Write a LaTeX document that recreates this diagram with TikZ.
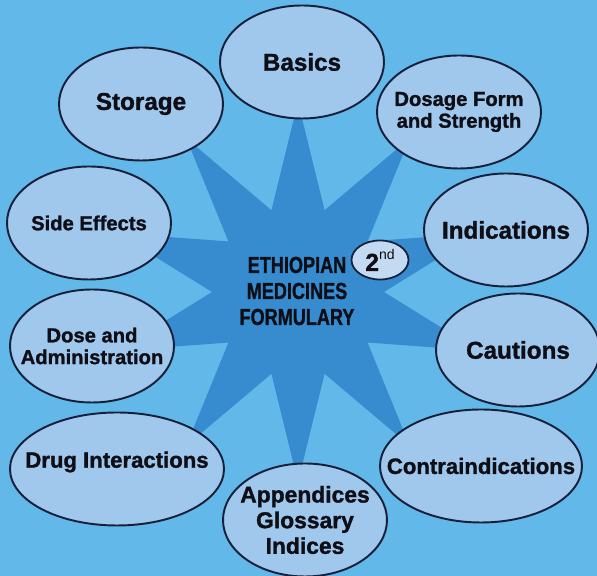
\documentclass[tikz,border=0pt]{standalone}
\usepackage{fontspec}
\setmainfont{Liberation Sans}[BoldFeatures={FakeBold=1.3}]
\newfontfamily\narrowfont{Liberation Sans}[FakeStretch=0.78,BoldFeatures={FakeBold=1.1}]
\usetikzlibrary{shapes.geometric}
\definecolor{bgblue}{RGB}{98,184,232}
\definecolor{starblue}{RGB}{54,140,207}
\definecolor{ellfill}{RGB}{160,199,236}
\definecolor{edfill}{RGB}{196,218,242}
\definecolor{linecol}{RGB}{22,32,58}
\definecolor{txtcol}{RGB}{14,14,22}
\tikzset{
	topic/.style={ellipse,draw=linecol,line width=1.1pt,fill=ellfill,inner sep=0pt,minimum width=3.28cm,minimum height=2.26cm},
	bigtxt/.style={text=txtcol,align=center,font=\bfseries\fontsize{13.8}{15}\selectfont},
	midtxt/.style={text=txtcol,align=center,font=\bfseries\fontsize{12.6}{14.6}\selectfont},
	smalltxt/.style={text=txtcol,align=center,font=\bfseries\fontsize{11.5}{12.4}\selectfont}
}
\begin{document}
\begin{tikzpicture}
	\clip (0,0) rectangle (11.94,11.52);
	\fill[bgblue] (0,0) rectangle (11.94,11.52);
	
	\fill[starblue,shift={(5.96,5.68)}] (90:3.8) \foreach \a in {0,36,...,324} {-- (90-\a:3.8) -- (72-\a:1.72)} -- cycle;
	
	\node[text=txtcol,align=center,font=\narrowfont\bfseries\fontsize{13.2}{14.8}\selectfont] (title) at (5.94,5.70) {ETHIOPIAN\\MEDICINES\\FORMULARY};
	\node[ellipse,draw=linecol,line width=1pt,fill=edfill,text=txtcol,inner sep=0pt,minimum width=1.14cm,minimum height=0.78cm] (edition) at (7.60,6.32) {\fontsize{14}{15}\selectfont\textbf{2}\raisebox{0.9ex}{\fontsize{8}{9}\selectfont nd}};
	
	\node[topic,label={[bigtxt]center:Basics}] (basics) at (6.04,10.28) {};
	\node[topic,label={[smalltxt]center:Dosage Form\\and Strength}] (dosage) at (9.18,9.28) {};
	\node[topic,label={[bigtxt]center:Indications}] (indications) at (10.12,6.92) {};
	\node[topic,label={[bigtxt]center:Cautions}] (cautions) at (10.36,4.52) {};
	\node[topic,minimum width=4.04cm,label={[midtxt]center:Contraindications}] (contra) at (9.62,2.20) {};
	\node[topic,label={[midtxt,font=\bfseries\fontsize{13}{14.6}\selectfont]center:Appendices\\Glossary\\Indices}] (appendices) at (6.10,1.12) {};
	\node[topic,minimum width=4.28cm,label={[midtxt,yshift=0.14cm]center:Drug Interactions}] (drug) at (2.34,2.14) {};
	\node[topic,label={[smalltxt]center:Dose and\\Administration}] (dose) at (1.84,4.60) {};
	\node[topic,label={[smalltxt]center:Side Effects}] (side) at (1.78,7.06) {};
	\node[topic,label={[bigtxt]center:Storage}] (storage) at (2.82,9.44) {};
\end{tikzpicture}
\end{document}
